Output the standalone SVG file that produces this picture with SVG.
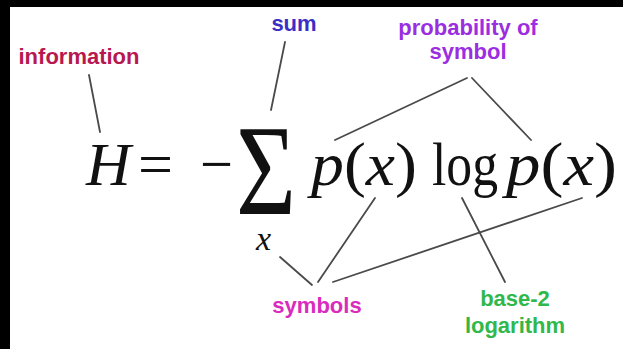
<svg xmlns="http://www.w3.org/2000/svg" width="623" height="349" viewBox="0 0 623 349">
<style>
.lbl{font-family:"Liberation Sans",Arial,sans-serif;font-weight:bold;font-size:22px;text-anchor:middle}
.math{font-family:"Liberation Serif","Times New Roman",serif;fill:#111}
.it{font-style:italic}
.conn line{stroke:#4a4a4a;stroke-width:1.8;stroke-linecap:round}
</style>
<rect x="0" y="0" width="623" height="349" fill="#ffffff"/>
<rect x="0" y="0" width="623" height="7" fill="#000"/>
<rect x="0" y="0" width="10" height="349" fill="#000"/>

<g id="label-information"><text class="lbl" x="79" y="64" fill="#b8174f">information</text></g>
<g id="label-sum"><text class="lbl" x="294" y="31" fill="#3a2fc4">sum</text></g>
<g id="label-probability"><text class="lbl" x="468" y="35" fill="#9b2ee0">probability of</text><text class="lbl" x="468" y="59" fill="#9b2ee0">symbol</text></g>
<g id="label-symbols"><text class="lbl" x="317" y="313" fill="#d92bbd">symbols</text></g>
<g id="label-base2"><text class="lbl" x="515" y="306" fill="#30b84c">base-2</text><text class="lbl" x="515" y="333" fill="#30b84c">logarithm</text></g>

<g id="formula" class="math">
<text id="H" class="it" x="86" y="185" font-size="62">H</text>
<text id="eq" x="138" y="185" font-size="62" textLength="35" lengthAdjust="spacingAndGlyphs">=</text>
<text id="minus" x="200" y="185" font-size="62" textLength="33" lengthAdjust="spacingAndGlyphs">−</text>
<text id="sigma" x="236" y="214" font-size="130" textLength="60" lengthAdjust="spacingAndGlyphs">Σ</text>
<text id="sub-x" class="it" x="256" y="250" font-size="34">x</text>
<text id="px1" x="311" y="185" font-size="62" textLength="106" lengthAdjust="spacingAndGlyphs"><tspan class="it">p</tspan>(<tspan class="it">x</tspan>)</text>
<text id="log" x="432" y="185" font-size="62" textLength="66" lengthAdjust="spacingAndGlyphs">log</text>
<text id="px2" x="506" y="185" font-size="62" textLength="111" lengthAdjust="spacingAndGlyphs"><tspan class="it">p</tspan>(<tspan class="it">x</tspan>)</text>
</g>

<g id="connectors" class="conn">
<line x1="89" y1="75" x2="100" y2="132"/>
<line x1="285" y1="42" x2="271" y2="110"/>
<line x1="467" y1="78" x2="335" y2="140"/>
<line x1="472" y1="78" x2="531" y2="140"/>
<line x1="280" y1="257" x2="312" y2="285"/>
<line x1="375" y1="198" x2="318" y2="282"/>
<line x1="582" y1="198" x2="333" y2="282"/>
<line x1="462" y1="198" x2="505" y2="282"/>
</g>
</svg>
